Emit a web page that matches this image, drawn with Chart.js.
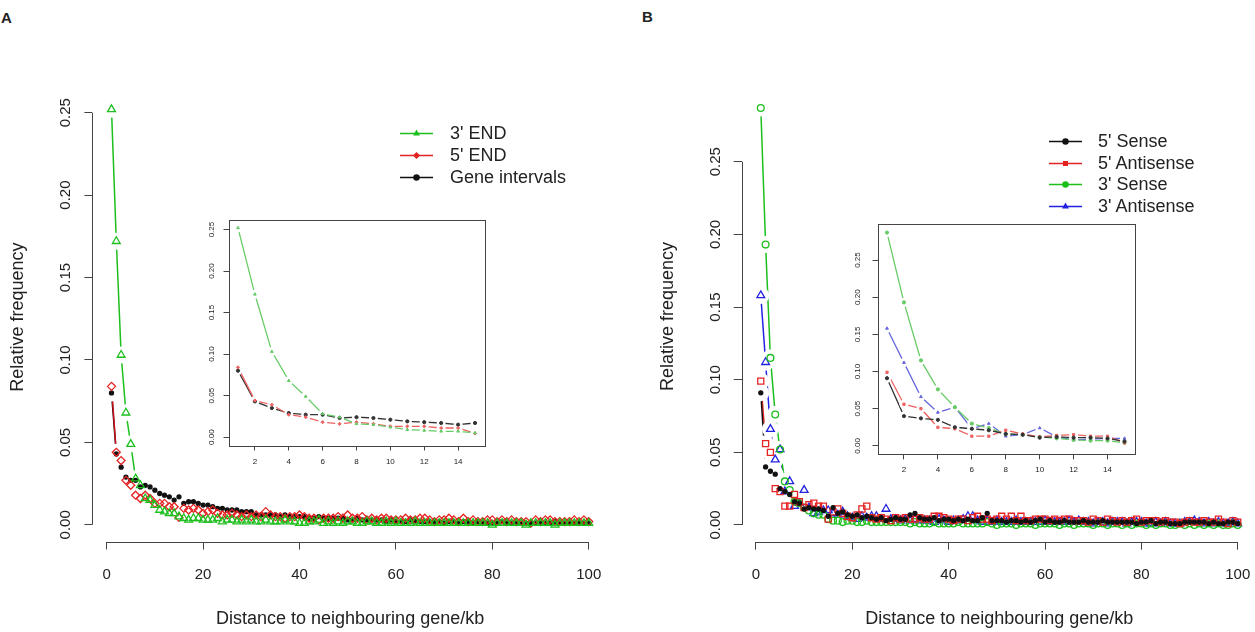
<!DOCTYPE html>
<html>
<head>
<meta charset="utf-8">
<script src="https://cdn.jsdelivr.net/npm/chart.js@4.4.1/dist/chart.umd.min.js"></script>
<style>
  html, body { margin: 0; padding: 0; background: #fff; }
  body { position: relative; width: 1255px; height: 632px; overflow: hidden; font-family: "Liberation Sans", Arial, sans-serif; color: #222; }
  canvas { position: absolute; }
  .panel { position: absolute; font-weight: bold; font-size: 15px; }
  .legend-row { position: absolute; height: 22px; line-height: 22px; font-size: 18px; white-space: nowrap; }
  .legend-row canvas { position: absolute; left: 0; top: 0; }
  .legend-row span { position: absolute; top: 0; }
</style>
</head>
<body>
<div class="panel" style="left:1px; top:9px;">A</div>
<div class="panel" style="left:642px; top:8px;">B</div>

<canvas id="mainA" width="620" height="632" style="left:0; top:0;"></canvas>
<canvas id="insetA" width="300" height="280" style="left:200px; top:200px;"></canvas>
<canvas id="mainB" width="640" height="632" style="left:630px; top:0;"></canvas>
<canvas id="insetB" width="300" height="285" style="left:850px; top:205px;"></canvas>
<div id="legendA"></div>
<div id="legendB"></div>

<script>
/* global Chart */

// distance to neighbouring gene, kb
const distances = [
  1, 2, 3, 4, 5, 6, 7, 8, 9, 10, 11, 12, 13, 14, 15, 16, 17, 18, 19, 20,
  21, 22, 23, 24, 25, 26, 27, 28, 29, 30, 31, 32, 33, 34, 35, 36, 37, 38, 39, 40,
  41, 42, 43, 44, 45, 46, 47, 48, 49, 50, 51, 52, 53, 54, 55, 56, 57, 58, 59, 60,
  61, 62, 63, 64, 65, 66, 67, 68, 69, 70, 71, 72, 73, 74, 75, 76, 77, 78, 79, 80,
  81, 82, 83, 84, 85, 86, 87, 88, 89, 90, 91, 92, 93, 94, 95, 96, 97, 98, 99, 100,
];

// panel A
const threePrimeEnd = [
  0.252, 0.172, 0.103, 0.068, 0.049, 0.028, 0.024, 0.016, 0.015, 0.012, 0.009, 0.008, 0.007, 0.007, 0.005,
  0.004, 0.003, 0.004, 0.004, 0.003, 0.003, 0.003, 0.004, 0.002, 0.003, 0.003, 0.002, 0.003, 0.002, 0.003,
  0.002, 0.002, 0.003, 0.002, 0.002, 0.002, 0.003, 0.002, 0.002, 0.001, 0.001, 0.002, 0.002, 0.003, 0.001,
  0.002, 0.001, 0.002, 0.001, 0.002, 0.002, 0.001, 0.001, 0.002, 0.002, 0.001, 0.001, 0.002, 0.001, 0.002,
  0.001, 0.001, 0.001, 0.002, 0.001, 0.001, 0.001, 0.001, 0.001, 0.001, 0.001, 0.001, 0.001, 0.001, 0.001,
  0.001, 0.001, 0.001, 0.001, 0.000, 0.001, 0.001, 0.001, 0.001, 0.001, 0.001, 0.000, 0.001, 0.001, 0.001,
  0.001, 0.001, 0.000, 0.001, 0.001, 0.001, 0.001, 0.001, 0.001, 0.001,
];
const fivePrimeEnd = [
  0.084, 0.044, 0.039, 0.027, 0.024, 0.018, 0.016, 0.018, 0.016, 0.013, 0.013, 0.013, 0.011, 0.011, 0.0045,
  0.010, 0.009, 0.010, 0.009, 0.007, 0.008, 0.009, 0.007, 0.006, 0.006, 0.007, 0.006, 0.005, 0.006, 0.005,
  0.006, 0.005, 0.008, 0.006, 0.005, 0.005, 0.004, 0.005, 0.005, 0.006, 0.005, 0.004, 0.004, 0.003, 0.004,
  0.004, 0.004, 0.005, 0.004, 0.006, 0.004, 0.004, 0.005, 0.003, 0.004, 0.003, 0.004, 0.004, 0.003, 0.003,
  0.003, 0.004, 0.003, 0.003, 0.004, 0.004, 0.003, 0.002, 0.003, 0.003, 0.004, 0.003, 0.002, 0.004, 0.002,
  0.003, 0.002, 0.002, 0.003, 0.003, 0.002, 0.003, 0.002, 0.003, 0.002, 0.002, 0.002, 0.001, 0.003, 0.002,
  0.003, 0.003, 0.002, 0.002, 0.002, 0.002, 0.003, 0.002, 0.003, 0.002,
];
const geneIntervals = [
  0.080, 0.043, 0.035, 0.029, 0.027, 0.027, 0.023, 0.024, 0.023, 0.021, 0.019, 0.018, 0.017, 0.015, 0.017,
  0.013, 0.014, 0.014, 0.013, 0.012, 0.012, 0.011, 0.010, 0.010, 0.009, 0.009, 0.009, 0.008, 0.008, 0.008,
  0.006, 0.006, 0.006, 0.006, 0.006, 0.005, 0.006, 0.005, 0.005, 0.005, 0.005, 0.004, 0.004, 0.005, 0.004,
  0.004, 0.004, 0.004, 0.004, 0.003, 0.003, 0.004, 0.003, 0.003, 0.003, 0.003, 0.003, 0.002, 0.003, 0.002,
  0.002, 0.002, 0.003, 0.002, 0.002, 0.002, 0.002, 0.002, 0.002, 0.001, 0.002, 0.002, 0.001, 0.002, 0.002,
  0.001, 0.002, 0.001, 0.001, 0.001, 0.001, 0.002, 0.001, 0.001, 0.001, 0.001, 0.001, 0.001, 0.001, 0.001,
  0.001, 0.001, 0.002, 0.001, 0.001, 0.001, 0.001, 0.001, 0.001, 0.001,
];

// panel B
const fiveSense = [
  0.091, 0.040, 0.037, 0.035, 0.025, 0.023, 0.021, 0.016, 0.015, 0.011, 0.012, 0.011, 0.011, 0.010, 0.006,
  0.012, 0.008, 0.009, 0.007, 0.006, 0.007, 0.005, 0.006, 0.005, 0.004, 0.005, 0.003, 0.004, 0.005, 0.004,
  0.004, 0.007, 0.008, 0.005, 0.004, 0.004, 0.005, 0.003, 0.004, 0.004, 0.003, 0.004, 0.003, 0.004, 0.003,
  0.003, 0.005, 0.008, 0.003, 0.003, 0.003, 0.002, 0.003, 0.003, 0.002, 0.003, 0.002, 0.003, 0.004, 0.002,
  0.003, 0.002, 0.002, 0.003, 0.002, 0.002, 0.002, 0.003, 0.002, 0.002, 0.002, 0.003, 0.002, 0.002, 0.002,
  0.002, 0.002, 0.002, 0.001, 0.002, 0.002, 0.003, 0.001, 0.002, 0.002, 0.001, 0.001, 0.001, 0.002, 0.002,
  0.002, 0.002, 0.002, 0.001, 0.002, 0.001, 0.001, 0.002, 0.002, 0.001,
];
const fiveAntisense = [
  0.099, 0.056, 0.050, 0.025, 0.023, 0.013, 0.013, 0.021, 0.016, 0.012, 0.014, 0.015, 0.013, 0.013, 0.004,
  0.009, 0.011, 0.008, 0.006, 0.005, 0.007, 0.011, 0.013, 0.005, 0.004, 0.005, 0.004, 0.003, 0.005, 0.004,
  0.005, 0.004, 0.004, 0.005, 0.004, 0.004, 0.006, 0.006, 0.005, 0.004, 0.003, 0.004, 0.004, 0.003, 0.005,
  0.006, 0.004, 0.004, 0.003, 0.004, 0.006, 0.004, 0.006, 0.003, 0.006, 0.003, 0.003, 0.004, 0.004, 0.004,
  0.003, 0.004, 0.003, 0.004, 0.004, 0.003, 0.003, 0.003, 0.002, 0.004, 0.003, 0.002, 0.004, 0.003, 0.002,
  0.003, 0.002, 0.003, 0.004, 0.002, 0.003, 0.003, 0.003, 0.002, 0.003, 0.002, 0.002, 0.001, 0.002, 0.003,
  0.002, 0.002, 0.003, 0.002, 0.002, 0.004, 0.002, 0.001, 0.003, 0.002,
];
const threeSense = [
  0.287, 0.193, 0.115, 0.076, 0.052, 0.030, 0.024, 0.016, 0.015, 0.012, 0.010, 0.008, 0.007, 0.007, 0.004,
  0.003, 0.003, 0.002, 0.003, 0.003, 0.002, 0.002, 0.003, 0.002, 0.002, 0.002, 0.002, 0.002, 0.002, 0.002,
  0.002, 0.001, 0.002, 0.001, 0.001, 0.001, 0.002, 0.001, 0.001, 0.001, 0.001, 0.002, 0.001, 0.001, 0.001,
  0.001, 0.001, 0.002, 0.001, 0.000, 0.001, 0.001, 0.001, 0.000, 0.001, 0.001, 0.001, 0.000, 0.001, 0.001,
  0.001, 0.001, 0.000, 0.001, 0.001, 0.000, 0.001, 0.001, 0.001, 0.000, 0.001, 0.001, 0.000, 0.001, 0.001,
  0.000, 0.001, 0.000, 0.001, 0.001, 0.000, 0.001, 0.000, 0.001, 0.001, 0.000, 0.000, 0.001, 0.000, 0.001,
  0.000, 0.001, 0.000, 0.001, 0.000, 0.001, 0.000, 0.000, 0.001, 0.000,
];
const threeAntisense = [
  0.158, 0.112, 0.066, 0.045, 0.052, 0.023, 0.030, 0.013, 0.015, 0.024, 0.012, 0.008, 0.009, 0.010, 0.010,
  0.008, 0.007, 0.009, 0.006, 0.005, 0.004, 0.006, 0.005, 0.006, 0.006, 0.004, 0.011, 0.004, 0.004, 0.003,
  0.004, 0.003, 0.004, 0.003, 0.003, 0.003, 0.002, 0.004, 0.003, 0.002, 0.003, 0.003, 0.004, 0.006, 0.006,
  0.003, 0.002, 0.003, 0.002, 0.003, 0.002, 0.002, 0.002, 0.003, 0.002, 0.002, 0.002, 0.002, 0.002, 0.003,
  0.002, 0.002, 0.002, 0.002, 0.003, 0.002, 0.003, 0.002, 0.002, 0.001, 0.002, 0.002, 0.001, 0.002, 0.002,
  0.002, 0.001, 0.002, 0.002, 0.002, 0.001, 0.001, 0.002, 0.001, 0.002, 0.001, 0.001, 0.001, 0.002, 0.002,
  0.003, 0.002, 0.001, 0.002, 0.001, 0.002, 0.001, 0.001, 0.002, 0.001,
];

const insetLength = 15;
const xTitle = 'Distance to neighbouring gene/kb';
const yTitle = 'Relative frequency';

const colors = {
  green: '#1cbf1c', red: '#e52222', blue: '#2222e0', black: '#111111',
  lightGreen: '#66cc66', lightRed: '#ef6262', lightBlue: '#6868dc', darkGrey: '#333333',
};

Chart.defaults.font.family = '"Liberation Sans", Arial, sans-serif';
Chart.defaults.color = '#222';

// R style axes: the line only runs from the first to the last tick, or a full box for the insets
const rAxes = {
  id: 'rAxes',
  afterDraw(chart, args, opts) {
    const { ctx, chartArea: a, scales } = chart;
    ctx.save();
    ctx.strokeStyle = '#444';
    ctx.lineWidth = 1;
    if (opts.box) {
      ctx.strokeRect(Math.round(a.left) + 0.5, Math.round(a.top) + 0.5,
        Math.round(a.right - a.left), Math.round(a.bottom - a.top));
    } else {
      const xt = scales.x.ticks;
      const yt = scales.y.ticks;
      const bottom = Math.round(a.bottom) + 0.5;
      const left = Math.round(a.left) + 0.5;
      ctx.beginPath();
      ctx.moveTo(scales.x.getPixelForValue(xt[0].value), bottom);
      ctx.lineTo(scales.x.getPixelForValue(xt[xt.length - 1].value), bottom);
      ctx.moveTo(left, scales.y.getPixelForValue(yt[0].value));
      ctx.lineTo(left, scales.y.getPixelForValue(yt[yt.length - 1].value));
      ctx.stroke();
    }
    ctx.restore();
  },
};

function toPoints(values, n) {
  return values.slice(0, n).map((y, i) => ({ x: distances[i], y }));
}

// R type="b": line, white gap round every point, then the symbol
function typeB(points, s) {
  return [
    {
      data: points, showLine: true, borderColor: s.line, borderWidth: s.lineWidth,
      pointRadius: 0, tension: 0, order: 30,
    },
    {
      data: points, showLine: false, pointRadius: s.gap, pointHoverRadius: 0,
      pointBackgroundColor: '#ffffff', pointBorderWidth: 0, order: 20,
    },
    {
      data: points, showLine: false, pointStyle: s.style, pointRadius: s.radius,
      pointBorderColor: s.color, pointBackgroundColor: s.filled ? s.color : 'rgba(0,0,0,0)',
      pointBorderWidth: s.markerWidth, order: 10,
    },
  ];
}

function makeChart(id, datasets, g) {
  return new Chart(document.getElementById(id), {
    type: 'scatter',
    data: { datasets },
    plugins: [rAxes],
    options: {
      responsive: false,
      animation: false,
      events: [],
      layout: { padding: g.padding },
      plugins: {
        legend: { display: false },
        tooltip: { enabled: false },
        rAxes: { box: g.box },
      },
      scales: {
        x: {
          type: 'linear',
          min: g.xMin,
          max: g.xMax,
          border: { display: false },
          grid: {
            drawOnChartArea: false, drawTicks: true, tickLength: g.tickLength, color: '#444',
          },
          ticks: {
            stepSize: g.xStep, includeBounds: false, padding: g.xPad, maxRotation: 0,
            autoSkip: false, font: { size: g.tickSize }, color: '#222',
          },
          title: {
            display: !!g.xTitle, text: g.xTitle, font: { size: 18 }, color: '#222',
            padding: { top: 0, bottom: 2 },
          },
          afterFit(s) {
            s.height = g.xHeight;
            s.paddingLeft = 0;
            s.paddingRight = 0;
          },
        },
        y: {
          type: 'linear',
          min: g.yMin,
          max: g.yMax,
          border: { display: false },
          grid: {
            drawOnChartArea: false, drawTicks: true, tickLength: g.tickLength, color: '#444',
          },
          ticks: {
            stepSize: 0.05, includeBounds: false, padding: g.yPad, minRotation: 90, maxRotation: 90,
            crossAlign: 'center', autoSkip: false, font: { size: g.tickSize }, color: '#222',
            callback: (v) => v.toFixed(2),
          },
          title: {
            display: !!g.yTitle, text: g.yTitle, font: { size: 18 }, color: '#222',
            padding: { top: g.yTitlePad, bottom: 0 },
          },
          afterFit(s) {
            s.width = g.yWidth;
            s.paddingTop = 0;
            s.paddingBottom = 0;
          },
        },
      },
    },
  });
}

const mainStyle = { lineWidth: 1.5, gap: 8.5, markerWidth: 1.3 };
const insetStyle = { lineWidth: 1.3, gap: 4.5, markerWidth: 1, radius: 1.6, filled: true };

// panel A series
const seriesA = [
  { label: "3' END", values: threePrimeEnd, color: colors.green, light: colors.lightGreen, style: 'triangle', radius: 4.5 },
  { label: "5' END", values: fivePrimeEnd, color: colors.red, light: colors.lightRed, style: 'rectRot', radius: 4, lineMain: '#c8101a' },
  { label: 'Gene intervals', values: geneIntervals, color: colors.black, light: colors.darkGrey, style: 'circle', radius: 2, filled: true },
];
// panel B series
const seriesB = [
  { label: "5' Sense", values: fiveSense, color: colors.black, light: colors.darkGrey, style: 'circle', radius: 2, filled: true },
  { label: "5' Antisense", values: fiveAntisense, color: colors.red, light: colors.lightRed, style: 'rect', radius: 4.3 },
  { label: "3' Sense", values: threeSense, color: colors.green, light: colors.lightGreen, style: 'circle', radius: 3.4 },
  { label: "3' Antisense", values: threeAntisense, color: colors.blue, light: colors.lightBlue, style: 'triangle', radius: 4.5 },
];

function mainSets(series) {
  return series.flatMap((s) => typeB(toPoints(s.values, distances.length), {
    ...mainStyle, line: s.lineMain || s.color, color: s.color, style: s.style, radius: s.radius, filled: !!s.filled,
  }));
}
function insetSets(series) {
  return series.flatMap((s) => typeB(toPoints(s.values, insetLength), {
    ...insetStyle, line: s.light, color: s.light, style: s.style,
  }));
}

function buildLegend(id, series, g) {
  const box = document.getElementById(id);
  series.forEach((s, i) => {
    const row = document.createElement('div');
    row.className = 'legend-row';
    row.style.left = `${g.left}px`;
    row.style.top = `${g.top + i * g.step - 11}px`;
    const icon = document.createElement('canvas');
    icon.width = 34;
    icon.height = 22;
    const ctx = icon.getContext('2d');
    ctx.strokeStyle = s.color;
    ctx.fillStyle = s.color;
    ctx.lineWidth = 1.5;
    ctx.beginPath();
    ctx.moveTo(0, 11.5);
    ctx.lineTo(33, 11.5);
    ctx.stroke();
    Chart.helpers.drawPoint(ctx, { pointStyle: s.style, radius: 2.5, borderWidth: 1, rotation: 0 }, 16.5, 11.5);
    const text = document.createElement('span');
    text.style.left = `${g.textLeft}px`;
    text.textContent = s.label;
    row.appendChild(icon);
    row.appendChild(text);
    box.appendChild(row);
  });
}

function initialize() {
  makeChart('mainA', mainSets(seriesA), {
    xMin: -2.96, xMax: 103.96, yMin: -0.0101, yMax: 0.2621, xStep: 20,
    padding: { left: 0, top: 92.7, right: 12.2, bottom: 0 },
    yWidth: 92.4, xHeight: 90.5, tickLength: 8, tickSize: 15, xPad: 16, yPad: 4,
    xTitle, yTitle, yTitlePad: 7, box: false,
  });
  makeChart('insetA', insetSets(seriesA), {
    xMin: 0.44, xMax: 15.56, yMin: -0.0101, yMax: 0.2621, xStep: 2,
    padding: { left: 0, top: 19.5, right: 15.5, bottom: 0 },
    yWidth: 28.5, xHeight: 34.5, tickLength: 5, tickSize: 8, xPad: 6, yPad: 4,
    xTitle: '', yTitle: '', yTitlePad: 0, box: true,
  });
  makeChart('mainB', mainSets(seriesB), {
    xMin: -2.96, xMax: 103.96, yMin: -0.0115, yMax: 0.2985, xStep: 20,
    padding: { left: 0, top: 91.3, right: 13.2, bottom: 0 },
    yWidth: 111.7, xHeight: 90.3, tickLength: 8, tickSize: 15, xPad: 16, yPad: 3,
    xTitle, yTitle, yTitlePad: 27, box: false,
  });
  makeChart('insetB', insetSets(seriesB), {
    xMin: 0.44, xMax: 15.56, yMin: -0.0115, yMax: 0.2985, xStep: 2,
    padding: { left: 0, top: 19, right: 16, bottom: 0 },
    yWidth: 27.5, xHeight: 35.6, tickLength: 5, tickSize: 8, xPad: 6, yPad: 7,
    xTitle: '', yTitle: '', yTitlePad: 0, box: true,
  });

  buildLegend('legendA', seriesA, { left: 400, top: 133.3, step: 21.7, textLeft: 50 });
  buildLegend('legendB', seriesB, { left: 1049, top: 141, step: 21.7, textLeft: 49 });
}

document.addEventListener('DOMContentLoaded', initialize);
</script>
</body>
</html>
